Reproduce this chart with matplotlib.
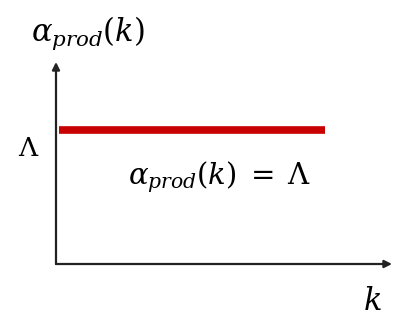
import numpy as np
import matplotlib
matplotlib.use('Agg')
import matplotlib.pyplot as plt

plt.rcParams['mathtext.fontset'] = 'dejavuserif'

# constant production rate alpha_prod(k) = Lambda
k = [0.01, 0.80]
alpha = [1.0, 1.0]
y_tick_labels = [r'$\Lambda$']
y_label = r'$\alpha_{prod}(k)$'
x_label = r'$k$'
curve_label = r'$\alpha_{prod}(k)\;=\;\Lambda$'

W, H = 393, 320
fig = plt.figure(figsize=(W / 100, H / 100), dpi=100)

# axes frame in pixel positions of the picture
x0, x1 = 56, 392
y0, y1 = 264, 62
ax = fig.add_axes([x0 / W, 1 - y0 / H, (x1 - x0) / W, (y0 - y1) / H])
ax.set_xlim(0, 1)
ax.set_ylim(0, 1.508)
ax.axis('off')

ax.plot(k, alpha, color='#c80000', lw=5.5, solid_capstyle='butt')

# axes with arrow heads
ax.annotate('', xy=(1.0, 0), xytext=(0, 0), xycoords='axes fraction',
             arrowprops=dict(arrowstyle='-|>', color='#222222', lw=1.6,
                             mutation_scale=11, shrinkA=0, shrinkB=0))
ax.annotate('', xy=(0, 1.0), xytext=(0, 0), xycoords='axes fraction',
             arrowprops=dict(arrowstyle='-|>', color='#222222', lw=1.6,
                             mutation_scale=11, shrinkA=0, shrinkB=0))

ax.text(-0.082, alpha[0] * 0.86, y_tick_labels[0], fontsize=19, ha='center', va='center')
fig.text(88 / W, 1 - 33 / H, y_label, fontsize=22, ha='center', va='center')
fig.text(372 / W, 1 - 301 / H, x_label, fontsize=22, ha='center', va='center')
fig.text(220 / W, 1 - 177 / H, curve_label, fontsize=21, ha='center', va='center')

fig.savefig('out.png', dpi=100)
